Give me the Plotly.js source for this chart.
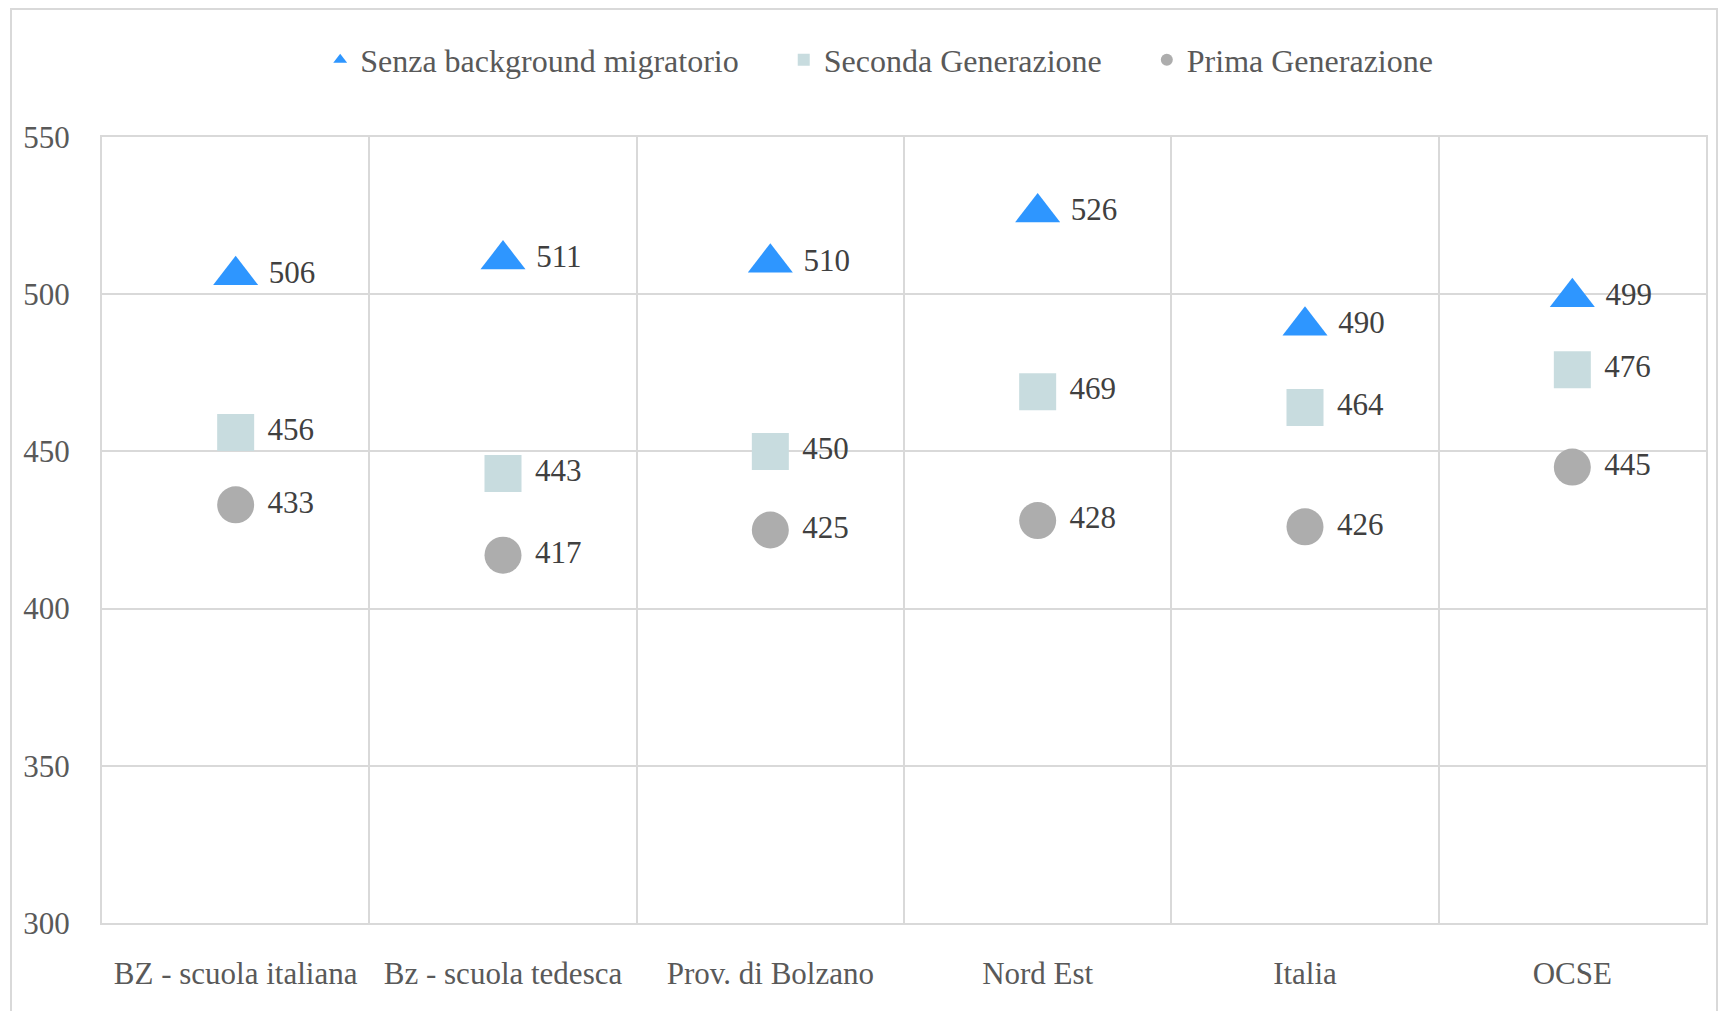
<!DOCTYPE html>
<html>
<head>
<meta charset="utf-8">
<script src="https://cdn.plot.ly/plotly-3.0.1.min.js"></script>
<style>
html,body{margin:0;padding:0;background:#fff;overflow:hidden;}
#chart{width:1718px;height:1011px;}
#frame{position:absolute;left:10px;top:8px;width:1704px;height:1010px;border:2px solid #D9D9D9;pointer-events:none;}
</style>
</head>
<body>
<div id="chart"></div>
<div id="frame"></div>
<script>
const categories = ["BZ - scuola italiana", "Bz - scuola tedesca", "Prov. di Bolzano", "Nord Est", "Italia", "OCSE"];
const senzaBackground = [506, 511, 510, 526, 490, 499];
const secondaGenerazione = [456, 443, 450, 469, 464, 476];
const primaGenerazione = [433, 417, 425, 428, 426, 445];
const yTicks = [300, 350, 400, 450, 500, 550];

const fontFam = "Liberation Serif, Times New Roman, serif";
const labelFont = {family: fontFam, size: 31, color: "#404040"};
const pad = "\u00a0\u00a0\u00a0\u00a0\u00a0";

function mk(name, vals, symbol, color, size) {
  return {
    type: "scatter", mode: "markers+text", name: name + pad,
    x: categories, y: vals,
    text: vals.map(v => " " + v),
    textposition: "middle right",
    textfont: labelFont,
    marker: {symbol: symbol, color: color, size: size, line: {width: 0}},
    cliponaxis: false,
    hoverinfo: "skip"
  };
}

const data = [
  mk("Senza background migratorio", senzaBackground, "triangle-up", "#2E96FF", 39),
  mk("Seconda Generazione", secondaGenerazione, "square", "#C8DCDF", 37),
  mk("Prima Generazione", primaGenerazione, "circle", "#ADADAD", 37)
];

const layout = {
  width: 1718, height: 1011,
  margin: {l: 102, r: 12, t: 137, b: 88},
  paper_bgcolor: "#fff", plot_bgcolor: "#fff",
  showlegend: true,
  legend: {
    orientation: "h", x: 0.497, xanchor: "center", y: 1.098, yanchor: "middle",
    font: {family: fontFam, size: 32, color: "#595959"},
    itemsizing: "constant", traceorder: "normal"
  },
  xaxis: {
    type: "category", range: [-0.5, 5.5], autorange: false,
    tickson: "boundaries",
    showgrid: true, gridcolor: "#D9D9D9", gridwidth: 2,
    showline: true, linecolor: "#D9D9D9", linewidth: 2, mirror: true,
    ticks: "", ticklabelstandoff: 22,
    tickfont: {family: fontFam, size: 31, color: "#595959"},
    fixedrange: true
  },
  yaxis: {
    range: [300, 550], autorange: false, tickvals: yTicks, ticktext: yTicks.map(String),
    showgrid: true, gridcolor: "#D9D9D9", gridwidth: 2,
    showline: true, linecolor: "#D9D9D9", linewidth: 2, mirror: true,
    zeroline: false, ticks: "", ticklabelstandoff: 24,
    tickfont: {family: fontFam, size: 31, color: "#595959"},
    fixedrange: true
  }
};

Plotly.newPlot("chart", data, layout, {displayModeBar: false, staticPlot: true});
</script>
</body>
</html>
